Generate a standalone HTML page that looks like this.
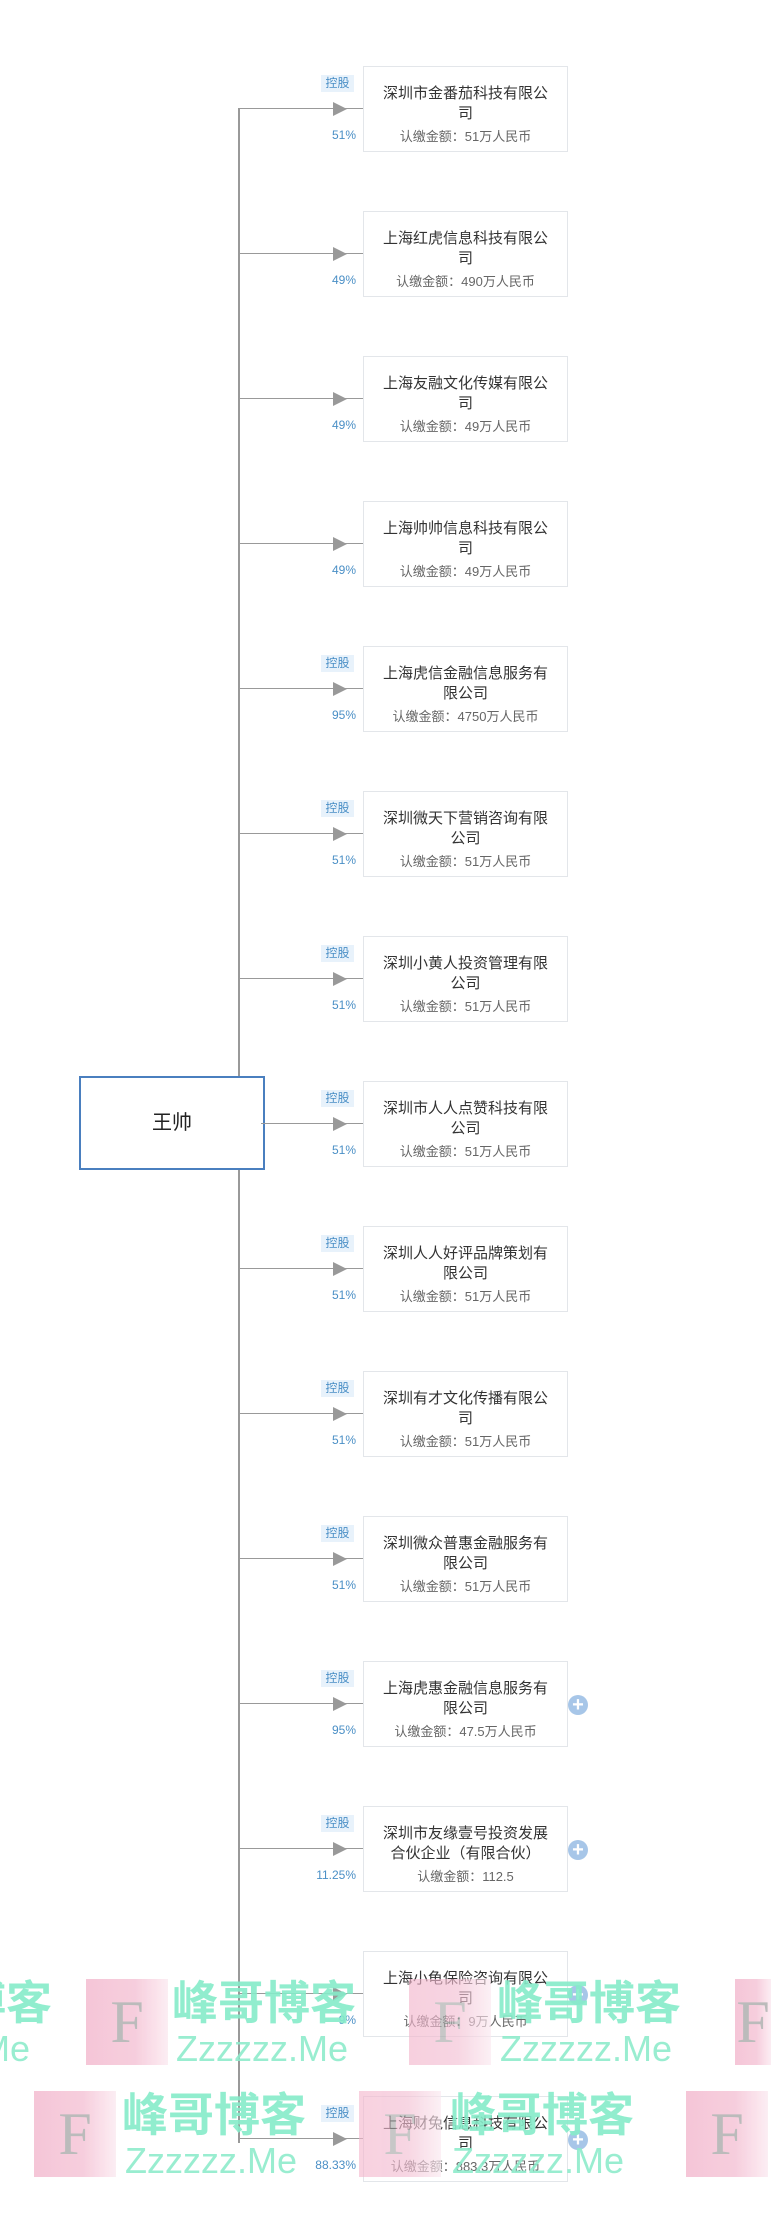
<!DOCTYPE html>
<html style="overflow:hidden"><head><meta charset="utf-8"><style>
body{margin:0;width:771px;height:2220px;background:#fff;position:relative;overflow:hidden;font-family:"Liberation Sans","Noto Sans CJK SC",sans-serif;}
.it{position:absolute;left:0;width:700px;height:90px}
.box{position:absolute;left:363px;top:0;width:203px;height:84px;border:1px solid #e3e6ea;background:#fff;text-align:center;color:#333;font-size:15px;line-height:20px}
.box .n{margin-top:17px}
.box .a{font-size:13px;color:#666;margin-top:5px;line-height:16px}
.ln{position:absolute;left:240px;top:42px;width:123px;height:1px;background:#999}
.ar{position:absolute;left:333px;top:36px;width:0;height:0;border-top:7px solid transparent;border-bottom:7px solid transparent;border-left:14px solid #999}
.kg{position:absolute;left:321px;top:9px;width:33px;height:17px;background:#e8f2fb;color:#4a8fc6;font-size:12px;line-height:17px;text-align:center}
.pc{position:absolute;right:344px;top:61px;color:#4a8fc6;font-size:12px;line-height:16px}
.pl{position:absolute;left:568px;top:34px;width:20px;height:20px;border-radius:50%;background:#a7c6e8;color:#fff;font-size:20px;line-height:20px;text-align:center;font-weight:bold}
.wm{position:absolute;left:0;top:0;width:771px;height:2220px;overflow:hidden;opacity:.9}
.pk{position:absolute;width:82px;height:86px;background:linear-gradient(90deg,#f3b5cc 0%,#f4bfd3 60%,#fbe9f0 100%);color:#a7a7a7;font-family:"Liberation Serif",serif;font-size:60px;line-height:86px;text-align:center}
.gt{position:absolute;color:#86ecc9;font-weight:bold;font-size:46px;line-height:48px;white-space:nowrap}
.gz{position:absolute;color:#8eeccc;font-size:36px;line-height:36px;white-space:nowrap}
</style></head><body>
<div style="position:absolute;left:238px;top:108px;width:2px;height:2035px;background:#999"></div>
<div style="position:absolute;left:79px;top:1076px;width:182px;height:90px;border:2px solid #4a7fbf;background:#fff;text-align:center;font-size:20px;line-height:90px;color:#222">王帅</div>

<div class="it" style="top:66px"><div class="ln"></div><div class="ar"></div><div class="kg">控股</div><div class="pc">51%</div><div class="box"><div class="n">深圳市金番茄科技有限公<br>司</div><div class="a">认缴金额：51万人民币</div></div></div>
<div class="it" style="top:211px"><div class="ln"></div><div class="ar"></div><div class="pc">49%</div><div class="box"><div class="n">上海红虎信息科技有限公<br>司</div><div class="a">认缴金额：490万人民币</div></div></div>
<div class="it" style="top:356px"><div class="ln"></div><div class="ar"></div><div class="pc">49%</div><div class="box"><div class="n">上海友融文化传媒有限公<br>司</div><div class="a">认缴金额：49万人民币</div></div></div>
<div class="it" style="top:501px"><div class="ln"></div><div class="ar"></div><div class="pc">49%</div><div class="box"><div class="n">上海帅帅信息科技有限公<br>司</div><div class="a">认缴金额：49万人民币</div></div></div>
<div class="it" style="top:646px"><div class="ln"></div><div class="ar"></div><div class="kg">控股</div><div class="pc">95%</div><div class="box"><div class="n">上海虎信金融信息服务有<br>限公司</div><div class="a">认缴金额：4750万人民币</div></div></div>
<div class="it" style="top:791px"><div class="ln"></div><div class="ar"></div><div class="kg">控股</div><div class="pc">51%</div><div class="box"><div class="n">深圳微天下营销咨询有限<br>公司</div><div class="a">认缴金额：51万人民币</div></div></div>
<div class="it" style="top:936px"><div class="ln"></div><div class="ar"></div><div class="kg">控股</div><div class="pc">51%</div><div class="box"><div class="n">深圳小黄人投资管理有限<br>公司</div><div class="a">认缴金额：51万人民币</div></div></div>
<div class="it" style="top:1081px"><div class="ln" style="left:261px;width:102px"></div><div class="ar"></div><div class="kg">控股</div><div class="pc">51%</div><div class="box"><div class="n">深圳市人人点赞科技有限<br>公司</div><div class="a">认缴金额：51万人民币</div></div></div>
<div class="it" style="top:1226px"><div class="ln"></div><div class="ar"></div><div class="kg">控股</div><div class="pc">51%</div><div class="box"><div class="n">深圳人人好评品牌策划有<br>限公司</div><div class="a">认缴金额：51万人民币</div></div></div>
<div class="it" style="top:1371px"><div class="ln"></div><div class="ar"></div><div class="kg">控股</div><div class="pc">51%</div><div class="box"><div class="n">深圳有才文化传播有限公<br>司</div><div class="a">认缴金额：51万人民币</div></div></div>
<div class="it" style="top:1516px"><div class="ln"></div><div class="ar"></div><div class="kg">控股</div><div class="pc">51%</div><div class="box"><div class="n">深圳微众普惠金融服务有<br>限公司</div><div class="a">认缴金额：51万人民币</div></div></div>
<div class="it" style="top:1661px"><div class="ln"></div><div class="ar"></div><div class="kg">控股</div><div class="pc">95%</div><div class="box"><div class="n">上海虎惠金融信息服务有<br>限公司</div><div class="a">认缴金额：47.5万人民币</div></div><div class="pl">+</div></div>
<div class="it" style="top:1806px"><div class="ln"></div><div class="ar"></div><div class="kg">控股</div><div class="pc">11.25%</div><div class="box"><div class="n">深圳市友缘壹号投资发展<br>合伙企业（有限合伙）</div><div class="a">认缴金额：112.5</div></div><div class="pl">+</div></div>
<div class="it" style="top:1951px"><div class="ln"></div><div class="ar"></div><div class="pc">9%</div><div class="box"><div class="n">上海小龟保险咨询有限公<br>司</div><div class="a">认缴金额：9万人民币</div></div><div class="pl">+</div></div>
<div class="it" style="top:2096px"><div class="ln"></div><div class="ar"></div><div class="kg">控股</div><div class="pc">88.33%</div><div class="box"><div class="n">上海财兔信息科技有限公<br>司</div><div class="a">认缴金额：883.3万人民币</div></div><div class="pl">+</div></div>

<div class="wm">
<div class="gt" style="left:-40px;top:1979px">博客</div>
<div class="gz" style="left:-20px;top:2031px">Me</div>
<div class="pk" style="left:86px;top:1979px;opacity:.85">F</div>
<div class="gt" style="left:172px;top:1979px">峰哥博客</div>
<div class="gz" style="left:176px;top:2031px">Zzzzzz.Me</div>
<div class="pk" style="left:409px;top:1979px;opacity:.7">F</div>
<div class="gt" style="left:497px;top:1979px">峰哥博客</div>
<div class="gz" style="left:500px;top:2031px">Zzzzzz.Me</div>
<div class="pk" style="left:735px;top:1979px;width:36px;opacity:.85">F</div>
<div class="pk" style="left:34px;top:2091px;opacity:.85">F</div>
<div class="gt" style="left:122px;top:2091px">峰哥博客</div>
<div class="gz" style="left:125px;top:2143px">Zzzzzz.Me</div>
<div class="pk" style="left:359px;top:2091px;opacity:.7">F</div>
<div class="gt" style="left:450px;top:2091px">峰哥博客</div>
<div class="gz" style="left:452px;top:2143px">Zzzzzz.Me</div>
<div class="pk" style="left:686px;top:2091px;opacity:.85">F</div>
</div>
</body></html>
